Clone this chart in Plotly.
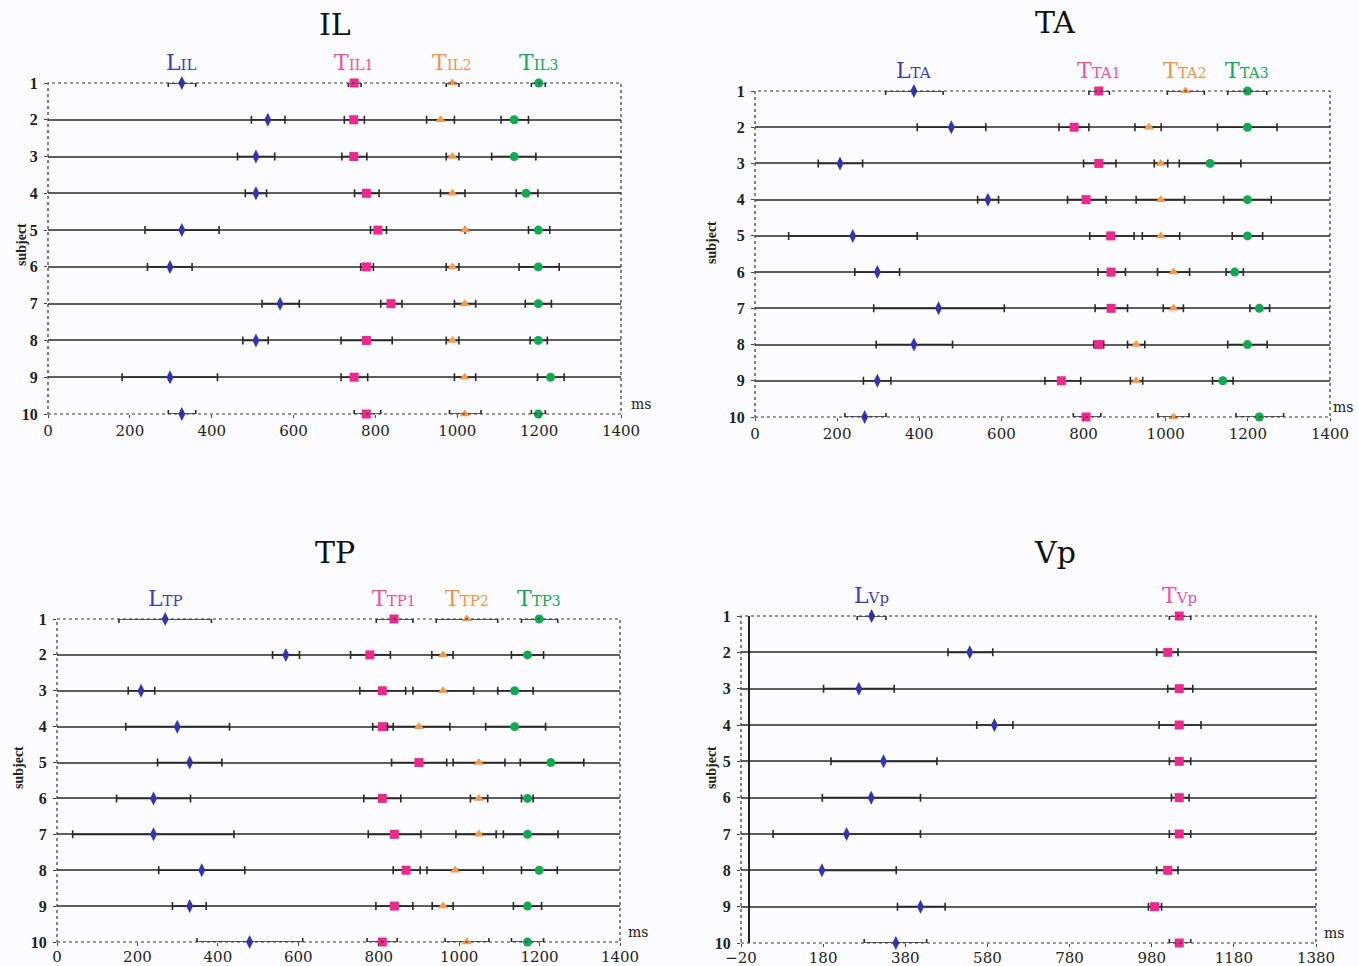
import plotly.graph_objects as go

subjects = [1, 2, 3, 4, 5, 6, 7, 8, 9, 10]

# ---------------- IL ----------------
IL_L = [327, 537, 508, 508, 327, 298, 567, 508, 298, 327]
IL_L_lo = [294, 497, 463, 482, 237, 243, 523, 476, 181, 294]
IL_L_hi = [361, 579, 554, 534, 418, 352, 614, 538, 414, 361]
IL_T1 = [748, 747, 747, 778, 806, 778, 838, 778, 748, 778]
IL_T1_lo = [734, 724, 718, 749, 788, 764, 813, 716, 716, 748]
IL_T1_hi = [765, 773, 779, 809, 827, 795, 865, 841, 781, 813]
IL_T2 = [988, 959, 988, 988, 1019, 988, 1018, 988, 1018, 1018]
IL_T2_lo = [973, 925, 973, 959, 1019, 973, 993, 973, 993, 981]
IL_T2_hi = [1004, 993, 1004, 1019, 1019, 1004, 1045, 1004, 1045, 1058]
IL_T3 = [1199, 1139, 1139, 1168, 1198, 1198, 1198, 1198, 1228, 1198]
IL_T3_lo = [1181, 1107, 1084, 1144, 1174, 1151, 1166, 1178, 1196, 1181]
IL_T3_hi = [1215, 1174, 1192, 1197, 1226, 1249, 1230, 1220, 1261, 1215]

# ---------------- TA ----------------
TA_L = [387, 478, 207, 567, 238, 298, 447, 387, 298, 267]
TA_L_lo = [318, 395, 154, 542, 82, 243, 289, 295, 264, 219]
TA_L_hi = [458, 562, 262, 593, 395, 352, 607, 481, 331, 319]
TA_T1 = [837, 777, 837, 806, 866, 867, 867, 837, 746, 806]
TA_T1_lo = [813, 740, 800, 761, 815, 835, 828, 825, 706, 775]
TA_T1_hi = [863, 813, 879, 855, 923, 902, 907, 849, 793, 842]
TA_T2 = [1048, 959, 988, 988, 988, 1019, 1019, 928, 928, 1019]
TA_T2_lo = [1004, 925, 972, 928, 943, 980, 994, 907, 914, 981]
TA_T2_hi = [1094, 989, 1005, 1046, 1034, 1058, 1043, 949, 944, 1057]
TA_T3 = [1199, 1199, 1108, 1199, 1199, 1168, 1228, 1199, 1139, 1228]
TA_T3_lo = [1151, 1126, 1033, 1141, 1162, 1147, 1205, 1151, 1114, 1171]
TA_T3_hi = [1246, 1271, 1183, 1257, 1236, 1189, 1253, 1247, 1164, 1287]

# ---------------- TP ----------------
TP_L = [269, 569, 209, 299, 330, 240, 240, 360, 330, 479]
TP_L_lo = [154, 536, 177, 171, 250, 148, 39, 253, 287, 348]
TP_L_hi = [384, 603, 243, 429, 410, 332, 440, 467, 371, 611]
TP_T1 = [838, 778, 809, 809, 900, 809, 839, 868, 839, 809]
TP_T1_lo = [794, 730, 753, 785, 832, 763, 774, 836, 793, 771]
TP_T1_hi = [885, 829, 867, 836, 969, 855, 905, 903, 885, 846]
TP_T2 = [1019, 960, 960, 900, 1049, 1049, 1049, 990, 960, 1019]
TP_T2_lo = [943, 932, 885, 822, 985, 1028, 992, 920, 933, 965]
TP_T2_hi = [1096, 985, 1036, 977, 1114, 1071, 1092, 1060, 985, 1074]
TP_T3 = [1199, 1170, 1138, 1138, 1228, 1170, 1170, 1199, 1170, 1170]
TP_T3_lo = [1155, 1130, 1096, 1066, 1152, 1155, 1110, 1155, 1135, 1130]
TP_T3_hi = [1245, 1210, 1184, 1215, 1310, 1184, 1246, 1244, 1205, 1210]

# ---------------- Vp ----------------
VP_L = [298, 537, 267, 597, 327, 297, 237, 177, 417, 357]
VP_L_lo = [263, 484, 181, 554, 199, 178, 58, 177, 361, 280]
VP_L_hi = [333, 593, 353, 642, 457, 417, 417, 358, 477, 432]
VP_T = [1047, 1019, 1047, 1047, 1047, 1047, 1047, 1019, 987, 1047]
VP_T_lo = [1023, 992, 1019, 998, 1023, 1028, 1023, 992, 972, 1023]
VP_T_hi = [1075, 1044, 1080, 1100, 1075, 1071, 1075, 1044, 1004, 1075]

X_TICKS_MS = [0, 200, 400, 600, 800, 1000, 1200, 1400]
X_TICKS_VP = [-20, 180, 380, 580, 780, 980, 1180, 1380]

BLUE = '#3434ae'
PINK = '#ec2a8e'
ORANGE = '#f39a50'
GREEN = '#14a852'
LBL_BLUE = '#3d3db8'
LBL_PINK = '#ee4fa2'
LBL_ORANGE = '#f0924c'
LBL_GREEN = '#16a65c'

STYLE = {
    'L': dict(symbol='diamond-tall', color=BLUE, size=10, lab=LBL_BLUE),
    'T1': dict(symbol='square', color=PINK, size=9, lab=LBL_PINK),
    'T2': dict(symbol='triangle-up', color=ORANGE, size=9, lab=LBL_ORANGE),
    'T3': dict(symbol='circle', color=GREEN, size=9, lab=LBL_GREEN),
}

SERIF = 'DejaVu Serif'
NARROW = 'Liberation Serif'
W, H = 1359, 966


def dom_x(a, b):
    return [a / W, b / W]


def dom_y(top, bottom):
    return [1 - bottom / H, 1 - top / H]


def label_html(big, small, idx):
    s = big + '<span style="font-size:15px">' + small + '</span>'
    if idx:
        s += '<span style="font-size:14px">' + idx + '</span>'
    return s


panels = [
    dict(title='IL', n='', xd=dom_x(48, 621), yd=dom_y(83, 414), xr=[0, 1400], ticks=X_TICKS_MS,
         tpos=(335, 24), spos=(21, 245), zero=False, lift=0, msx=8,
         series=[('L', IL_L, IL_L_lo, IL_L_hi, 'L', 'IL', ''),
                 ('T1', IL_T1, IL_T1_lo, IL_T1_hi, 'T', 'IL', '1'),
                 ('T2', IL_T2, IL_T2_lo, IL_T2_hi, 'T', 'IL', '2'),
                 ('T3', IL_T3, IL_T3_lo, IL_T3_hi, 'T', 'IL', '3')]),
    dict(title='TA', n='2', xd=dom_x(755, 1330), yd=dom_y(91, 417), xr=[0, 1400], ticks=X_TICKS_MS,
         tpos=(1055, 22), spos=(712, 243), zero=False, lift=0, msx=1,
         series=[('L', TA_L, TA_L_lo, TA_L_hi, 'L', 'TA', ''),
                 ('T1', TA_T1, TA_T1_lo, TA_T1_hi, 'T', 'TA', '1'),
                 ('T2', TA_T2, TA_T2_lo, TA_T2_hi, 'T', 'TA', '2'),
                 ('T3', TA_T3, TA_T3_lo, TA_T3_hi, 'T', 'TA', '3')]),
    dict(title='TP', n='3', xd=dom_x(57, 620), yd=dom_y(619, 942), xr=[0, 1400], ticks=X_TICKS_MS,
         tpos=(335, 552), spos=(18, 768), zero=False, lift=-2, msx=6,
         series=[('L', TP_L, TP_L_lo, TP_L_hi, 'L', 'TP', ''),
                 ('T1', TP_T1, TP_T1_lo, TP_T1_hi, 'T', 'TP', '1'),
                 ('T2', TP_T2, TP_T2_lo, TP_T2_hi, 'T', 'TP', '2'),
                 ('T3', TP_T3, TP_T3_lo, TP_T3_hi, 'T', 'TP', '3')]),
    dict(title='Vp', n='4', xd=dom_x(741, 1316), yd=dom_y(616, 943), xr=[-20, 1380], ticks=X_TICKS_VP,
         tpos=(1055, 552), spos=(711, 768), zero=True, lift=-2, msx=6,
         series=[('L', VP_L, VP_L_lo, VP_L_hi, 'L', 'Vp', ''),
                 ('T1', VP_T, VP_T_lo, VP_T_hi, 'T', 'Vp', '')]),
]

fig = go.Figure()
annotations = []
shapes = []
layout = dict(
    width=W, height=H, autosize=False,
    margin=dict(l=0, r=0, t=0, b=0),
    paper_bgcolor='#fcfcfe', plot_bgcolor='#fcfcfe',
    showlegend=False,
)

for p in panels:
    n = p['n']
    xa = 'x' + n
    ya = 'y' + n
    for key, mean, lo, hi, big, small, idx in p['series']:
        st = STYLE[key]
        plus = [h - m for h, m in zip(hi, mean)]
        minus = [m - l for m, l in zip(mean, lo)]
        fig.add_trace(go.Scatter(
            x=mean, y=subjects, xaxis=xa, yaxis=ya, mode='markers',
            marker=dict(symbol=st['symbol'], color=st['color'], size=st['size'], line=dict(width=0)),
            error_x=dict(type='data', symmetric=False, array=plus, arrayminus=minus,
                         color='#2a2a2a', thickness=1.6, width=4),
            cliponaxis=False,
        ))
        annotations.append(dict(
            x=mean[0], y=subjects[0], xref=xa, yref=ya, xanchor='center', yanchor='bottom',
            yshift=6, showarrow=False, text=label_html(big, small, idx),
            font=dict(family=SERIF, size=22, color=st['lab'])))
    # title
    annotations.append(dict(x=p['tpos'][0] / W, y=1 - p['tpos'][1] / H, xref='paper', yref='paper',
                            xanchor='center', yanchor='middle', showarrow=False, text=p['title'],
                            font=dict(family=SERIF, size=30, color='#111')))
    # y-axis title
    annotations.append(dict(x=p['spos'][0] / W, y=1 - p['spos'][1] / H, xref='paper', yref='paper',
                            xanchor='center', yanchor='middle', showarrow=False, text='<b>subject</b>',
                            textangle=-90, font=dict(family=NARROW, size=14, color='#222')))
    # ms unit
    annotations.append(dict(x=1, y=0, xref=xa + ' domain', yref=ya + ' domain', xanchor='left',
                            yanchor='bottom', xshift=p['msx'], yshift=0, showarrow=False, text='ms',
                            font=dict(family=SERIF, size=14, color='#222')))
    # dotted frame
    shapes.append(dict(type='rect', xref=xa + ' domain', yref=ya + ' domain', x0=0, x1=1, y0=0, y1=1,
                       line=dict(color='#333', width=1.2, dash='dot'), layer='above'))
    layout['xaxis' + n] = dict(
        domain=p['xd'], anchor=ya, range=p['xr'], tickvals=p['ticks'], automargin=False,
        showgrid=False, zeroline=p['zero'], zerolinecolor='#222', zerolinewidth=1.5,
        showline=False, ticks='outside', ticklen=3, tickcolor='#444',
        ticklabelstandoff=p['lift'],
        tickfont=dict(family=SERIF, size=15, color='#222'))
    layout['yaxis' + n] = dict(
        domain=p['yd'], anchor=xa, range=[10, 1], tickvals=subjects, automargin=False,
        showgrid=True, gridcolor='#5e5e5e', gridwidth=1.8, zeroline=False,
        showline=False, ticks='outside', ticklen=3, tickcolor='#444',
        ticklabelstandoff=3,
        tickfont=dict(family=NARROW, size=16, color='#222', weight='bold'))

layout['annotations'] = annotations
layout['shapes'] = shapes
fig.update_layout(**layout)
fig.write_html('out.html', config={'displayModeBar': False},
               post_script="document.body.style.margin='0';")
